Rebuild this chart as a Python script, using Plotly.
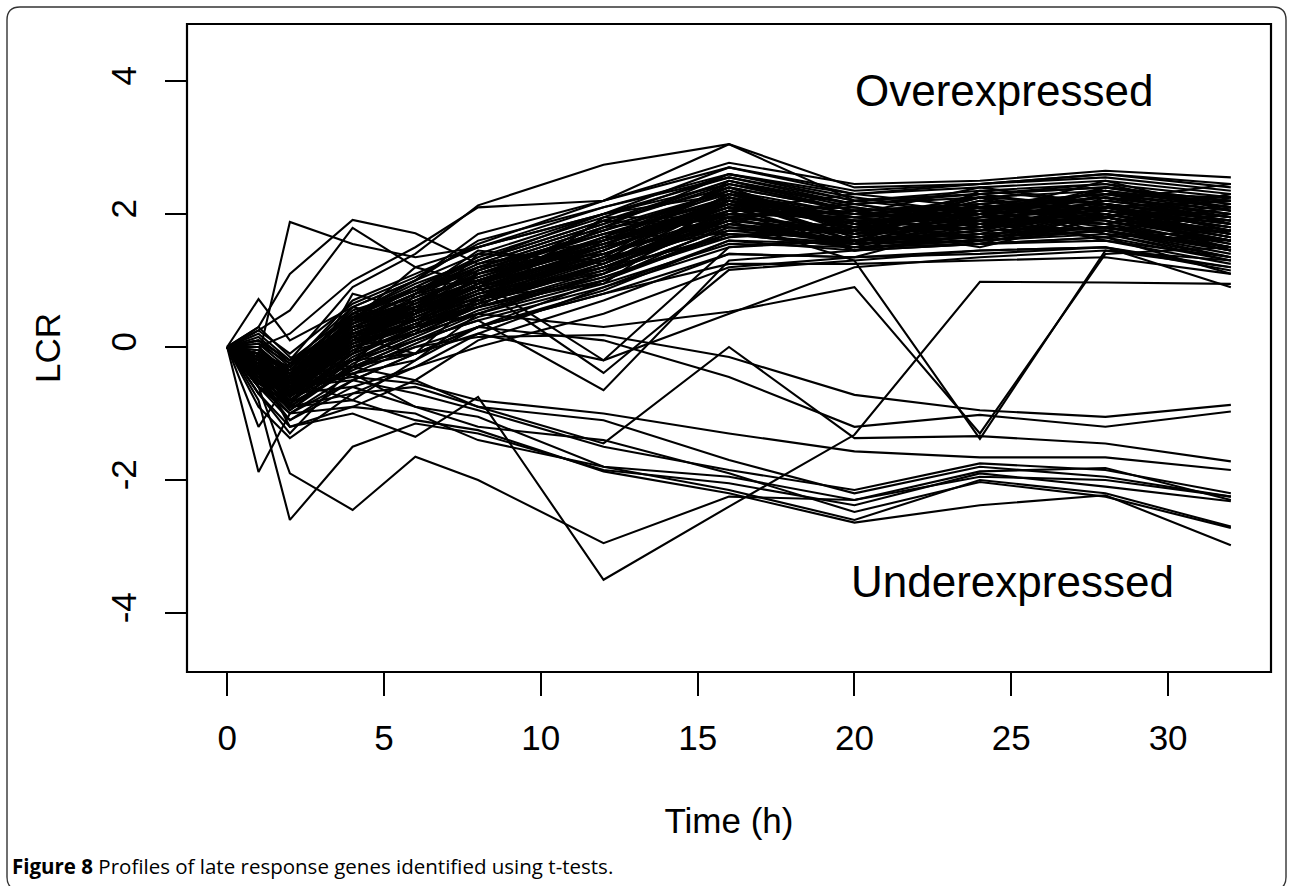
import plotly.graph_objects as go

# ---------------- data ----------------
times = [0, 1, 2, 4, 6, 8, 12, 16, 20, 24, 28, 32]

x_ticks = [0, 5, 10, 15, 20, 25, 30]
y_ticks = [-4, -2, 0, 2, 4]

# overexpressed genes: main bundle
over_bundle = [
    [0, -0.15, -0.45, 0.20, 0.50, 0.90, 1.50, 2.10, 1.55, 2.05, 1.80, 2.10],
    [0, -0.30, -0.60, 0.00, 0.35, 0.70, 1.30, 2.30, 1.95, 1.70, 2.15, 1.45],
    [0, 0.10, -0.30, 0.40, 0.70, 1.10, 1.70, 1.95, 2.15, 1.85, 1.75, 2.00],
    [0, -0.40, -0.80, -0.20, 0.20, 0.50, 1.10, 1.95, 1.50, 1.95, 2.05, 1.70],
    [0, -0.20, -0.50, 0.30, 0.60, 1.00, 1.60, 2.40, 1.75, 2.25, 1.95, 1.55],
    [0, -0.10, -0.70, 0.10, 0.40, 0.80, 1.20, 1.65, 1.90, 1.60, 2.25, 1.85],
    [0, 0.20, -0.20, 0.50, 0.90, 1.30, 1.90, 2.50, 2.05, 1.75, 2.40, 2.20],
    [0, -0.50, -0.90, -0.30, 0.10, 0.40, 0.90, 1.50, 1.65, 2.00, 1.60, 1.25],
    [0, -0.25, -0.55, 0.15, 0.55, 0.95, 1.45, 2.25, 1.85, 2.30, 2.05, 1.80],
    [0, -0.35, -0.65, 0.05, 0.30, 0.65, 1.25, 2.20, 1.60, 1.80, 2.30, 1.95],
    [0, 0.05, -0.35, 0.35, 0.80, 1.20, 1.80, 2.60, 2.25, 2.00, 2.50, 2.05],
    [0, -0.45, -0.75, -0.10, 0.25, 0.60, 1.00, 1.85, 1.55, 1.65, 1.75, 1.35],
    [0, -0.20, -0.40, 0.45, 0.75, 1.05, 1.55, 2.15, 2.00, 2.40, 2.15, 1.90],
    [0, -0.60, -1.00, -0.40, 0.00, 0.30, 0.80, 1.40, 1.35, 1.85, 1.95, 1.60],
    [0, -0.10, -0.50, 0.25, 0.65, 1.15, 1.75, 2.35, 1.70, 2.15, 1.85, 2.25],
    [0, -0.30, -0.85, -0.05, 0.45, 0.85, 1.35, 1.75, 1.80, 1.55, 2.00, 1.65],
    [0, 0.15, -0.25, 0.60, 1.00, 1.40, 2.00, 2.70, 2.30, 2.45, 2.55, 2.35],
    [0, -0.25, -0.60, 0.10, 0.40, 0.75, 1.15, 2.05, 1.45, 1.70, 1.80, 1.50],
    [0, -0.40, -0.70, 0.20, 0.50, 0.85, 1.40, 2.00, 1.95, 1.75, 2.10, 1.70],
    [0, -0.05, -0.45, 0.30, 0.70, 1.05, 1.65, 2.25, 1.65, 2.00, 2.35, 2.15],
    [0, -0.35, -0.95, -0.25, 0.15, 0.55, 1.05, 1.65, 1.75, 2.10, 1.70, 1.30],
    [0, -0.15, -0.35, 0.55, 0.85, 1.25, 1.85, 2.45, 2.15, 1.90, 2.20, 2.45],
    [0, -0.50, -0.80, -0.15, 0.30, 0.70, 1.20, 1.85, 1.60, 1.90, 1.85, 1.45],
    [0, -0.20, -0.55, 0.05, 0.55, 0.95, 1.55, 2.10, 1.90, 1.60, 2.00, 1.70],
    [0, 0.00, -0.40, 0.40, 0.80, 1.15, 1.70, 2.20, 1.80, 2.20, 2.05, 1.85],
    [0, -0.30, -0.70, 0.15, 0.45, 0.80, 1.30, 1.95, 2.05, 1.85, 1.65, 1.75],
    [0, -0.45, -0.60, -0.05, 0.20, 0.60, 1.10, 1.80, 1.55, 1.75, 2.20, 2.00],
    [0, -0.10, -0.30, 0.70, 1.10, 1.50, 2.10, 2.55, 2.20, 2.30, 2.45, 2.25],
    [0, -0.25, -0.75, 0.00, 0.35, 0.75, 1.35, 2.30, 1.75, 1.80, 1.95, 1.60],
    [0, -0.55, -0.85, -0.35, 0.05, 0.45, 0.95, 1.55, 1.50, 1.55, 1.65, 1.10],
    [0, -0.15, -0.50, 0.35, 0.65, 1.00, 1.60, 2.00, 1.95, 2.05, 2.15, 1.95],
    [0, -0.35, -0.65, 0.25, 0.55, 0.90, 1.45, 2.15, 1.70, 1.95, 2.35, 1.85],
    [0, 0.10, -0.20, 0.20, 0.60, 1.00, 1.50, 2.05, 2.10, 1.85, 1.75, 1.50],
    [0, -0.40, -0.90, -0.20, 0.25, 0.65, 1.20, 1.90, 1.70, 2.15, 1.90, 1.60],
    [0, -0.20, -0.60, 0.10, 0.50, 0.95, 1.65, 2.40, 2.05, 2.10, 2.20, 1.95],
    [0, -0.30, -0.45, 0.30, 0.75, 1.20, 1.80, 2.35, 1.85, 2.10, 1.95, 2.30],
    [0, -0.10, -0.55, 0.45, 0.90, 1.35, 1.95, 2.60, 2.20, 2.35, 2.45, 2.05],
    [0, -0.50, -1.10, -0.50, -0.10, 0.30, 0.85, 1.60, 1.55, 1.60, 1.70, 1.35],
    [0, -0.25, -0.65, 0.05, 0.40, 0.80, 1.40, 2.10, 1.85, 1.65, 2.05, 1.80],
    [0, -0.05, -0.35, 0.50, 0.95, 1.30, 1.90, 2.40, 2.05, 2.15, 2.30, 2.10],
    [0, -0.40, -0.75, 0.10, 0.45, 0.85, 1.30, 1.85, 1.60, 1.75, 1.80, 1.50],
    [0, -0.20, -0.45, 0.25, 0.60, 1.10, 1.75, 2.30, 1.80, 2.25, 2.15, 1.90],
    [0, -0.30, -0.80, -0.10, 0.30, 0.70, 1.25, 1.90, 1.75, 1.85, 2.00, 1.70],
    [0, 0.25, -0.10, 0.65, 1.05, 1.55, 2.20, 2.70, 2.35, 2.45, 2.60, 2.40],
    [0, -0.35, -0.55, 0.20, 0.55, 0.90, 1.50, 2.05, 2.00, 1.85, 1.95, 1.65],
    [0, -0.15, -0.65, 0.15, 0.50, 0.85, 1.45, 2.20, 1.65, 2.00, 2.10, 2.20],
    [0, -0.45, -0.95, -0.30, 0.10, 0.50, 1.00, 1.75, 1.60, 1.65, 1.80, 1.45],
    [0, -0.10, -0.40, 0.35, 0.70, 1.10, 1.60, 2.15, 1.85, 2.00, 2.10, 1.85],
    [0, -0.25, -0.50, 0.40, 0.80, 1.25, 1.85, 2.50, 2.15, 2.25, 2.35, 2.10],
    [0, -0.30, -0.70, 0.00, 0.40, 0.75, 1.20, 1.85, 1.70, 1.80, 1.95, 1.65],
    [0, -0.60, -0.80, -0.20, 0.20, 0.60, 1.15, 1.70, 1.50, 1.60, 1.75, 1.40],
    [0, -0.20, -0.30, 0.50, 0.85, 1.20, 1.70, 2.25, 1.95, 2.05, 2.15, 1.95],
    [0, -0.35, -0.60, 0.15, 0.50, 0.90, 1.40, 1.95, 1.80, 1.90, 2.00, 1.75],
    [0, -0.10, -0.50, 0.20, 0.55, 1.00, 1.55, 2.20, 1.95, 2.00, 2.10, 1.90],
    [0, -0.50, -0.70, 0.05, 0.35, 0.70, 1.25, 2.00, 1.70, 1.80, 1.95, 1.60],
    [0, -0.25, -0.85, 0.00, 0.30, 0.60, 1.05, 1.70, 1.55, 1.65, 1.80, 1.45],
    [0, 0.05, -0.25, 0.45, 0.85, 1.30, 2.00, 2.55, 2.15, 2.30, 2.40, 2.15],
    [0, -0.40, -0.60, 0.30, 0.65, 1.00, 1.55, 2.10, 1.85, 1.95, 2.10, 1.80],
    [0, -0.15, -0.75, -0.10, 0.25, 0.65, 1.20, 1.95, 1.75, 1.85, 1.95, 1.70],
    [0, -0.30, -0.50, 0.25, 0.60, 1.00, 1.60, 2.35, 2.00, 2.10, 2.25, 2.00],
    [0, -0.20, -0.40, 0.10, 0.60, 1.20, 1.40, 1.90, 2.20, 2.00, 1.85, 1.55],
    [0, -0.35, -0.70, 0.30, 0.40, 0.60, 1.60, 2.10, 1.60, 2.10, 2.30, 2.25],
    [0, -0.10, -0.60, 0.50, 0.50, 1.40, 1.30, 2.30, 1.85, 1.65, 2.00, 1.75],
    [0, -0.45, -0.50, -0.10, 0.70, 0.90, 1.80, 2.00, 1.95, 2.25, 1.70, 1.60],
    [0, -0.25, -0.85, 0.20, 0.30, 1.10, 1.50, 2.45, 2.05, 1.80, 2.15, 1.95],
    [0, 0.00, -0.45, 0.60, 0.40, 0.95, 1.90, 1.80, 1.75, 2.05, 2.25, 2.05],
    [0, -0.30, -0.55, -0.20, 0.50, 0.80, 1.10, 2.20, 1.90, 1.95, 2.40, 2.10],
    [0, -0.15, -0.70, 0.35, 0.90, 1.00, 1.65, 1.70, 1.65, 1.90, 1.90, 1.50],
    [0, -0.40, -0.35, 0.00, 0.20, 1.15, 1.75, 2.35, 1.75, 2.20, 2.05, 1.80],
    [0, -0.20, -0.65, 0.45, 0.60, 0.70, 1.35, 2.50, 2.10, 1.85, 2.30, 2.20],
    [0, -0.55, -0.45, 0.40, 1.20, 0.95, 1.45, 2.15, 1.45, 1.95, 1.85, 2.15],
    [0, 0.30, -0.15, -0.30, 0.80, 1.45, 1.25, 2.05, 2.30, 2.10, 2.00, 1.65],
    [0, -0.25, -0.90, 0.80, 0.55, 0.65, 1.95, 1.95, 1.55, 2.35, 2.15, 1.75],
    [0, -0.70, -0.25, 0.15, -0.10, 0.75, 0.95, 2.25, 1.80, 1.50, 1.95, 2.30],
]

# overexpressed genes: irregular profiles
over_irregular = [
    [0, -0.15, 1.88, 1.55, 1.35, 1.50, 2.00, 2.45, 2.05, 2.15, 2.30, 2.05],
    [0, 0.30, 1.10, 1.91, 1.71, 1.25, 1.60, 2.20, 1.90, 2.00, 2.10, 1.85],
    [0, 0.25, 0.55, 1.79, 1.20, 1.50, 2.00, 2.30, 2.00, 2.10, 2.25, 2.00],
    [0, 0.72, 0.10, 0.60, 1.00, 1.60, 2.10, 2.60, 2.30, 2.40, 2.50, 2.30],
    [0, 0.10, -0.20, 0.90, 1.40, 2.13, 2.74, 3.05, 2.40, 2.45, 2.60, 2.45],
    [0, -0.10, -0.30, 0.50, 1.00, 1.70, 2.20, 3.05, 2.20, 2.30, 2.40, 2.20],
    [0, 0.00, 0.20, 1.00, 1.50, 2.10, 2.20, 2.77, 2.45, 2.50, 2.65, 2.55],
    [0, -0.30, -0.60, -0.40, -0.20, 0.30, 0.80, 1.25, 1.25, 1.30, 1.35, 1.10],
    [0, -0.60, -1.10, -0.60, -0.30, 0.00, 0.50, 1.20, 1.35, 1.40, 1.50, 0.90],
    [0, -0.20, -0.60, 0.20, 0.50, 0.90, -0.39, 1.16, 1.30, 1.45, 1.50, 1.20],
    [0, -0.30, -0.50, 0.40, 0.80, 1.00, -0.20, 1.50, 1.60, 1.70, 1.80, 1.60],
    [0, -0.20, -0.70, -0.20, 0.10, 0.40, -0.65, 1.30, 1.45, 1.55, 1.60, 1.35],
    [0, -0.40, -0.80, -0.30, -0.10, 0.20, -0.20, 0.50, 1.20, 1.35, 1.45, 1.20],
    [0, -0.30, -0.60, 0.10, 0.30, 0.50, 0.30, 0.53, 0.90, -1.30, 1.40, 1.50],
    [0, -0.20, -0.40, 0.40, 0.60, 0.90, 1.30, 1.90, 1.30, -1.38, 1.45, 1.30],
    [0, -1.88, -1.00, -0.50, -0.10, 0.30, 1.00, 1.70, 1.50, 1.60, 1.75, 1.45],
    [0, -0.90, -1.37, -0.70, -0.30, 0.20, 0.90, 1.60, 1.45, 1.55, 1.65, 1.30],
    [0, -1.20, -0.50, -0.80, -0.20, 0.50, 1.10, 1.80, 1.60, 1.70, 1.80, 1.50],
    [0, -0.70, -1.20, -0.90, -0.50, 0.10, 0.70, 1.40, 1.35, 1.45, 1.50, 1.15],
]

# underexpressed and intermediate genes
under_profiles = [
    [0, -0.30, -1.20, -1.00, -1.35, -0.75, -3.50, -2.40, -1.32, 0.98, 0.97, 0.95],
    [0, -0.60, -1.90, -2.45, -1.65, -2.00, -2.95, -2.25, -2.30, -1.95, -2.00, -2.25],
    [0, -0.80, -2.60, -1.50, -1.15, -1.30, -1.85, -2.05, -2.38, -1.90, -2.10, -2.32],
    [0, -0.40, -0.90, -0.70, -0.60, -0.90, -1.45, 0.00, -1.37, -1.34, -1.45, -1.72],
    [0, -0.20, -0.50, -0.30, 0.00, 0.15, 0.18, -0.15, -0.72, -0.95, -1.05, -0.87],
    [0, -0.10, -0.40, -0.20, -0.10, 0.30, 0.10, -0.45, -1.20, -1.02, -1.20, -0.97],
    [0, -0.30, -0.60, -0.45, -0.55, -0.80, -1.00, -1.30, -1.57, -1.66, -1.66, -1.85],
    [0, -0.40, -0.60, -0.50, -0.70, -0.95, -1.50, -1.85, -2.15, -1.75, -1.85, -2.20],
    [0, -0.30, -0.70, -0.60, -0.90, -1.05, -1.80, -1.95, -2.30, -1.87, -1.82, -2.30],
    [0, -0.20, -0.50, -0.40, -0.90, -1.20, -1.40, -1.90, -2.48, -2.03, -2.25, -2.72],
    [0, -0.60, -0.90, -0.80, -1.10, -1.25, -1.87, -2.20, -2.64, -2.38, -2.23, -2.98],
    [0, -0.50, -1.00, -0.90, -1.00, -1.40, -1.80, -2.15, -2.60, -2.00, -2.20, -2.70],
    [0, -0.70, -1.30, -0.30, -0.50, -0.90, -1.10, -1.70, -2.20, -1.80, -1.95, -2.25],
]

x_title = "Time (h)"
y_title = "LCR"
label_over = "Overexpressed"
label_under = "Underexpressed"
caption_bold = "Figure 8"
caption_text = " Profiles of late response genes identified using t-tests."

# ---------------- figure ----------------
W, H = 1290, 886
L, R, T, B = 187, 19, 24, 214
PW, PH = W - L - R, H - T - B


def px(xp):
    return (xp - L) / PW


def py(yp):
    return (H - B - yp) / PH


fig = go.Figure()
for prof in over_bundle + over_irregular + under_profiles:
    fig.add_trace(go.Scatter(
        x=times, y=prof, mode="lines",
        line=dict(color="black", width=2.1),
        showlegend=False, hoverinfo="skip",
    ))

FONT = "Liberation Sans, Arial, Helvetica, sans-serif"

fig.update_layout(
    width=W, height=H,
    margin=dict(l=L, r=R, t=T, b=B, pad=0),
    paper_bgcolor="white", plot_bgcolor="white",
    font=dict(family=FONT, color="black"),
    xaxis=dict(
        range=[-1.28, 33.28], tickvals=x_ticks, ticktext=[str(v) for v in x_ticks],
        ticks="outside", ticklen=23, tickwidth=1.8, tickcolor="black",
        showgrid=False, zeroline=False, showline=False,
        tickfont=dict(size=35, family=FONT, color="black"),
        ticklabelstandoff=12,
        title=dict(text=x_title, font=dict(size=35, family=FONT, color="black"), standoff=52),
    ),
    yaxis=dict(
        range=[-4.887, 4.857], tickvals=y_ticks, ticktext=[str(v) for v in y_ticks],
        ticks="outside", ticklen=21, tickwidth=1.8, tickcolor="black",
        showgrid=False, zeroline=False, showline=False, tickangle=-90,
        tickfont=dict(size=35, family=FONT, color="black"),
        ticklabelstandoff=15,
        title=dict(text=y_title, font=dict(size=35, family=FONT, color="black"), standoff=32),
    ),
)

# plot box
fig.add_shape(type="rect", xref="paper", yref="paper", x0=0, y0=0, x1=1, y1=1,
              line=dict(color="black", width=2.2), layer="above")

# outer rounded frame
fx0, fx1, fy0, fy1, rr = 7, 1286, 7, 890, 13
path = (
    f"M {px(fx0 + rr)},{py(fy0)} L {px(fx1 - rr)},{py(fy0)} "
    f"Q {px(fx1)},{py(fy0)} {px(fx1)},{py(fy0 + rr)} "
    f"L {px(fx1)},{py(fy1 - rr)} Q {px(fx1)},{py(fy1)} {px(fx1 - rr)},{py(fy1)} "
    f"L {px(fx0 + rr)},{py(fy1)} Q {px(fx0)},{py(fy1)} {px(fx0)},{py(fy1 - rr)} "
    f"L {px(fx0)},{py(fy0 + rr)} Q {px(fx0)},{py(fy0)} {px(fx0 + rr)},{py(fy0)} Z"
)
fig.add_shape(type="path", xref="paper", yref="paper", path=path,
              line=dict(color="#333333", width=1.4))

fig.add_annotation(x=24.77, y=3.86, xref="x", yref="y", text=label_over, showarrow=False,
                   font=dict(size=44, family=FONT, color="black"), xanchor="center", yanchor="middle")
fig.add_annotation(x=25.04, y=-3.53, xref="x", yref="y", text=label_under, showarrow=False,
                   font=dict(size=44, family=FONT, color="black"), xanchor="center", yanchor="middle")

fig.add_annotation(x=px(10), y=py(866), xref="paper", yref="paper",
                   text=f"<b>{caption_bold}</b>{caption_text}", showarrow=False,
                   font=dict(size=20.5, family="Open Sans, Noto Sans, sans-serif", color="black"),
                   xanchor="left", yanchor="middle")

fig.write_html("out.html")
